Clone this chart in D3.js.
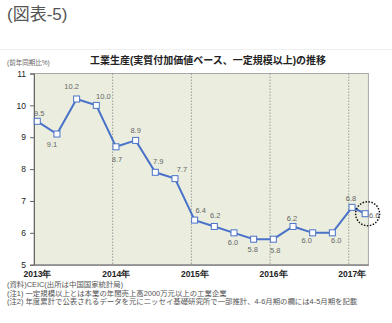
<!DOCTYPE html>
<html><head><meta charset="utf-8">
<script src="https://cdn.jsdelivr.net/npm/d3@7"></script>
<style>
body{margin:0;background:#fff;}
svg{display:block;font-family:"Liberation Sans","Noto Sans CJK JP",sans-serif;}
</style></head>
<body>
<svg id="c" width="392" height="323"></svg>
<script>
// ---- data ----
const periods = ["2013-01","2013-04","2013-07","2013-10","2014-01","2014-04","2014-07","2014-10",
  "2015-01","2015-04","2015-07","2015-10","2016-01","2016-04","2016-07","2016-10","2017-01","2017-03"];
const values = [9.5,9.1,10.2,10.0,8.7,8.9,7.9,7.7,6.4,6.2,6.0,5.8,5.8,6.2,6.0,6.0,6.8,6.6];
const yearLabels = ["2013年","2014年","2015年","2016年","2017年"];
const yTicks = [5,6,7,8,9,10,11];
const figTitle = "(図表-5)";
const chartTitle = "工業生産(実質付加価値ベース、一定規模以上)の推移";
const unitLabel = "(前年同期比%)";
const notes = ["(資料)CEIC(出所は中国国家統計局)",
  "(注1) 一定規模以上とは本業の年間売上高2000万元以上の工業企業",
  "(注2) 年度累計で公表されるデータを元にニッセイ基礎研究所で一部推計、4-6月期の欄には4-5月期を記載"];

// ---- layout ----
const svg = d3.select("#c");
const L=34, R=368.4, T=73.5, B=264.7;
const parse = d3.timeParse("%Y-%m");
const monthIdx = s => { const d=parse(s); return (d.getFullYear()-2013)*12 + d.getMonth() + 0.5; };
const x = d3.scaleLinear().domain([0,51]).range([L,R]);
const y = d3.scaleLinear().domain([5,11]).range([B,T]);

svg.append("line").attr("x1",0).attr("x2",392).attr("y1",49.5).attr("y2",49.5).attr("stroke","#f0f0f0");

svg.append("text").attr("x",7).attr("y",20).attr("font-size",17).attr("fill","#555").text(figTitle);
svg.append("text").attr("x",208).attr("y",64).attr("text-anchor","middle").attr("font-size",10)
  .attr("font-weight",600).attr("fill","#222").text(chartTitle);
svg.append("text").attr("x",7).attr("y",65).attr("font-size",6.5).attr("fill","#666").text(unitLabel);

// plot background
svg.append("rect").attr("x",L).attr("y",T).attr("width",R-L).attr("height",B-T)
  .attr("fill","#ebeedf").attr("stroke","#a8a8a8").attr("stroke-width",1);

// year gridlines
const years = yearLabels.map((s,i)=>i*12);
svg.append("g").selectAll("line").data(years.slice(1)).join("line")
  .attr("x1",d=>x(d)).attr("x2",d=>x(d)).attr("y1",T).attr("y2",B)
  .attr("stroke","#888").attr("stroke-dasharray","1.5,1.5").attr("stroke-width",0.8);

// y axis
const yAxis = svg.append("g").attr("transform",`translate(${L},0)`)
  .call(d3.axisLeft(y).tickValues(yTicks).tickSize(4).tickPadding(4).tickFormat(d3.format("d")));
yAxis.select(".domain").attr("stroke","#666");
yAxis.selectAll(".tick line").attr("stroke","#666");
yAxis.selectAll("text").attr("font-size",8.5).attr("fill","#222").attr("font-family","Liberation Sans, sans-serif");

// x axis
const xAxis = svg.append("g").attr("transform",`translate(0,${B})`)
  .call(d3.axisBottom(x).tickValues(years).tickSize(0).tickPadding(6).tickFormat((d,i)=>yearLabels[i]));
xAxis.select(".domain").attr("stroke","#666");
xAxis.selectAll("text").attr("font-size",8.5).attr("font-weight",600).attr("fill","#222").attr("dx",3);

// line
const pts = periods.map((p,i)=>({m:monthIdx(p), v:values[i]}));
svg.append("path").datum(pts)
  .attr("d", d3.line().x(d=>x(d.m)).y(d=>y(d.v)))
  .attr("fill","none").attr("stroke","#4a72c8").attr("stroke-width",2);
svg.append("g").selectAll("rect").data(pts).join("rect")
  .attr("x",d=>x(d.m)-3).attr("y",d=>y(d.v)-3).attr("width",6).attr("height",6)
  .attr("fill","#fff").attr("stroke","#4a72c8").attr("stroke-width",1);

// data labels
const labelOffsets = [[2,-8],[-5,10],[-5,-12],[7,-9],[1,13],[0,-10],[3,-11],[7,-9],[6,-10],
  [1,-10.5],[-1,9.5],[-1,10.5],[2,11.5],[-1,-8],[-6,8],[4,8],[-1,-9],[9,2]];
svg.append("g").selectAll("text").data(pts).join("text")
  .attr("x",(d,i)=>x(d.m)+labelOffsets[i][0]).attr("y",(d,i)=>y(d.v)+labelOffsets[i][1])
  .attr("text-anchor","middle").attr("dominant-baseline","central")
  .attr("font-size",7.5).attr("fill","#666").text(d=>d3.format(".1f")(d.v));

// dotted circle around last point
const last = pts[pts.length-1];
svg.append("circle").attr("cx",x(last.m)+2.5).attr("cy",y(last.v)).attr("r",12)
  .attr("fill","none").attr("stroke","#111").attr("stroke-width",1.5).attr("stroke-dasharray","1.5,1.5");

// notes
svg.append("g").selectAll("text").data(notes).join("text")
  .attr("x",7).attr("y",(d,i)=>287+i*8.7).attr("font-size",7.4).attr("fill","#555").text(d=>d);
</script>
</body></html>
